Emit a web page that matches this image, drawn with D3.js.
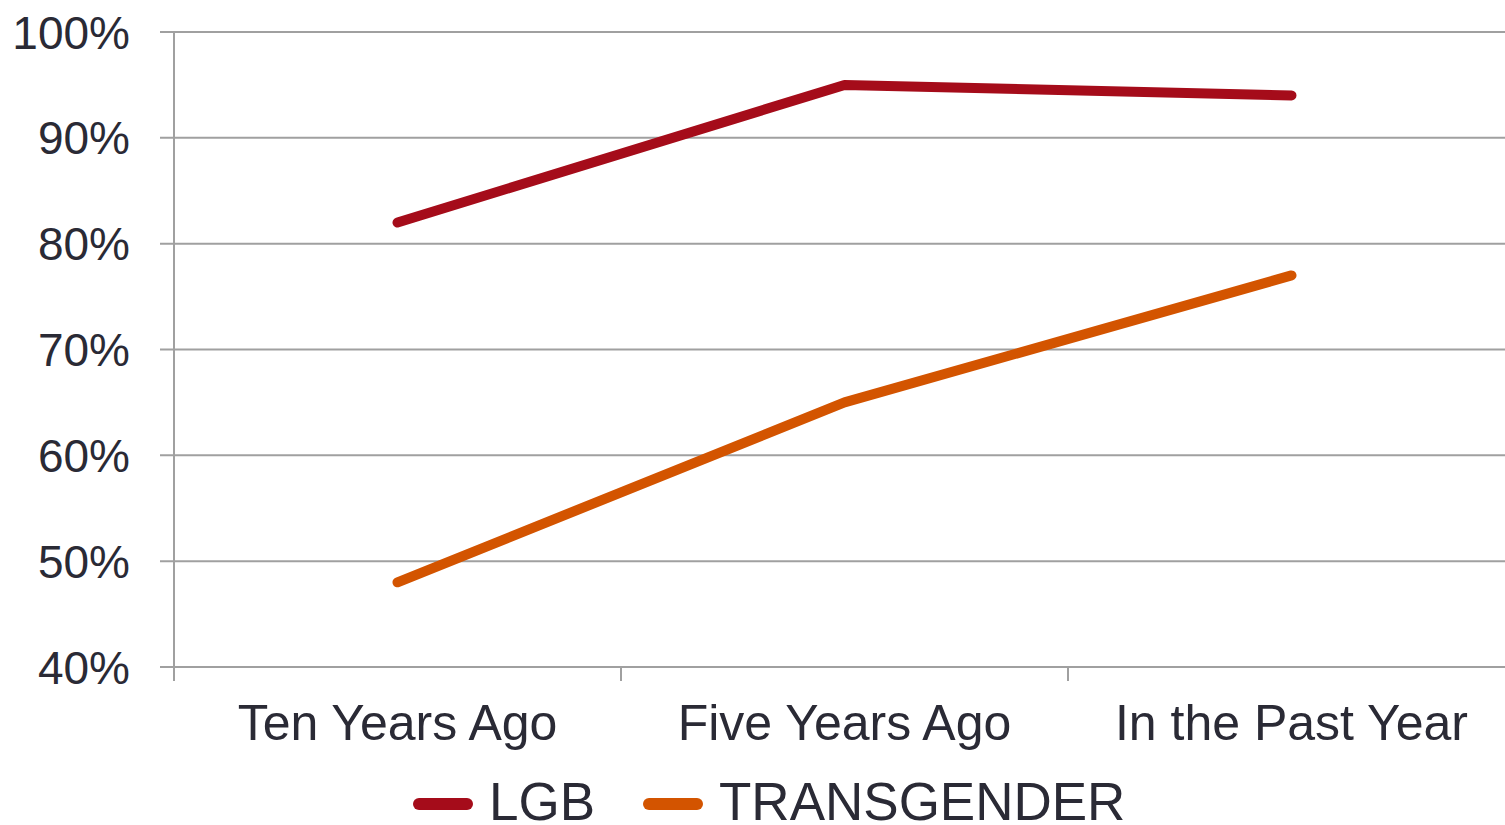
<!DOCTYPE html>
<html><head><meta charset="utf-8">
<script src="https://cdn.jsdelivr.net/npm/d3@7"></script>
<style>html,body{margin:0;padding:0;background:#fff;overflow:hidden}</style>
</head><body><svg id="c" width="1505" height="825"></svg>
<script>
const categories = ["Ten Years Ago", "Five Years Ago", "In the Past Year"];
const seriesNames = ["LGB", "TRANSGENDER"];
const lgbValues = [82, 95, 94];
const transValues = [48, 65, 77];
const yTicks = [40, 50, 60, 70, 80, 90, 100];
const colors = ["#a50c1a", "#d35400"];

(function () {
const svg = d3.select("#c");
const font = "Liberation Sans, Arial, sans-serif";
const textColor = "#2a2a35";
const gridColor = "#a0a0a0";
const mLeft = 174, mRight = 1515, mTop = 32, mBottom = 667;

const x = d3.scaleBand().domain(categories).range([mLeft, mRight]);
const y = d3.scaleLinear().domain([40, 100]).range([mBottom, mTop]);

// gridlines
svg.append("g").selectAll("line").data(yTicks).join("line")
  .attr("x1", mLeft - 14).attr("x2", mRight)
  .attr("y1", d => y(d)).attr("y2", d => y(d))
  .attr("stroke", gridColor).attr("stroke-width", 2);

// y axis line
svg.append("line").attr("x1", mLeft).attr("x2", mLeft).attr("y1", mTop).attr("y2", mBottom + 14)
  .attr("stroke", gridColor).attr("stroke-width", 2);

// x ticks at band boundaries
const bounds = categories.map(c => x(c)).slice(1);
svg.append("g").selectAll("line").data(bounds).join("line")
  .attr("x1", d => d).attr("x2", d => d).attr("y1", mBottom).attr("y2", mBottom + 14)
  .attr("stroke", gridColor).attr("stroke-width", 2);

// y labels
svg.append("g").selectAll("text").data(yTicks).join("text")
  .attr("x", 130).attr("y", d => y(d)).attr("dy", "0.36em")
  .attr("text-anchor", "end").attr("font-family", font).attr("font-size", 46)
  .attr("fill", textColor).text(d => d + "%");

// x labels
svg.append("g").selectAll("text").data(categories).join("text")
  .attr("x", d => x(d) + x.bandwidth() / 2).attr("y", 740)
  .attr("text-anchor", "middle").attr("font-family", font).attr("font-size", 50)
  .attr("fill", textColor).text(d => d);

// lines
const line = d3.line().x((d, i) => x(categories[i]) + x.bandwidth() / 2).y(d => y(d));
[lgbValues, transValues].forEach((vals, k) => {
  svg.append("path").attr("d", line(vals)).attr("fill", "none")
    .attr("stroke", colors[k]).attr("stroke-width", 10)
    .attr("stroke-linecap", "round").attr("stroke-linejoin", "round");
});

// legend
const legendItems = [{name: seriesNames[0], x: 419}, {name: seriesNames[1], x: 649}];
legendItems.forEach((it, k) => {
  svg.append("line").attr("x1", it.x).attr("x2", it.x + 48).attr("y1", 804).attr("y2", 804)
    .attr("stroke", colors[k]).attr("stroke-width", 12).attr("stroke-linecap", "round");
  svg.append("text").attr("x", it.x + 70).attr("y", 820).attr("font-family", font)
    .attr("font-size", 53).attr("fill", textColor).text(it.name);
});
})();
</script></body></html>
